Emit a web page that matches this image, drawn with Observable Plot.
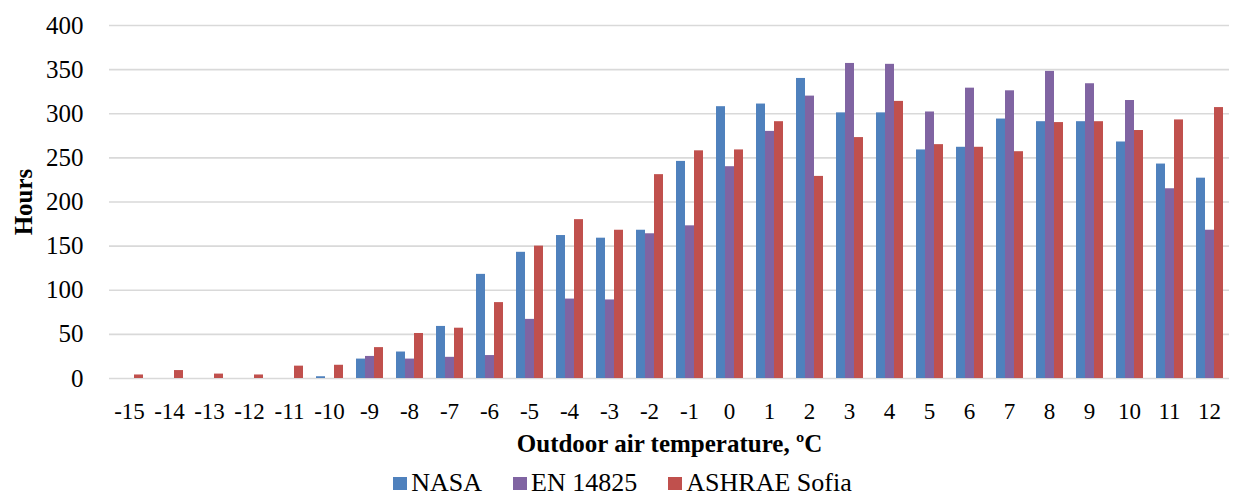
<!DOCTYPE html>
<html>
<head>
<meta charset="utf-8">
<script src="https://cdn.jsdelivr.net/npm/d3@7"></script>
<script src="https://cdn.jsdelivr.net/npm/@observablehq/plot@0.6"></script>
<style>
  html, body { margin: 0; padding: 0; background: #fff; overflow: hidden; }
  #chart { width: 1233px; height: 466px; }
  .legend { display: flex; justify-content: center; align-items: flex-start; height: 33px; width: 1233px;
    font-size: 26px; line-height: 26px; color: #000;
    padding-top: 4px; padding-left: 12px; box-sizing: border-box; }
  .legend .item { display: flex; align-items: flex-start; margin-right: 31px; }
  .legend .item:last-child { margin-right: 0; }
  .legend .sw { width: 14px; height: 13px; margin-right: 4px; display: inline-block; margin-top: 7px; }
</style>
</head>
<body>
<div id="chart"></div>
<script>
const temps = [-15, -14, -13, -12, -11, -10, -9, -8, -7, -6, -5, -4, -3, -2, -1, 0, 1, 2, 3, 4, 5, 6, 7, 8, 9, 10, 11, 12];
const seriesNames = ["NASA", "EN 14825", "ASHRAE Sofia"];
const seriesColors = ["#4f81bd", "#8064a2", "#c0504d"];
const nasa   = [0, 0, 0, 0, 0, 2, 22, 30, 59, 118, 143, 162, 159, 168, 246, 308, 311, 340, 301, 301, 259, 262, 294, 291, 291, 268, 243, 227];
const en14825 = [0, 0, 0, 0, 0, 0, 25, 22, 24, 26, 67, 90, 89, 164, 173, 240, 280, 320, 357, 356, 302, 329, 326, 348, 334, 315, 215, 168];
const ashrae = [4, 9, 5, 4, 14, 15, 35, 51, 57, 86, 150, 180, 168, 231, 258, 259, 291, 229, 273, 314, 265, 262, 257, 290, 291, 281, 293, 307];
const yTicks = [0, 50, 100, 150, 200, 250, 300, 350, 400];

const fontStack = "'Liberation Serif', 'Times New Roman', serif";
const seriesValues = [nasa, en14825, ashrae];
const data = [];
temps.forEach((t, i) => {
  seriesNames.forEach((s, j) => data.push({temp: t, series: s, value: seriesValues[j][i]}));
});

const chart = Plot.plot({
  width: 1233,
  height: 466,
  marginLeft: 108,
  marginRight: 3,
  marginTop: 25,
  marginBottom: 88,
  style: {fontFamily: fontStack, fontSize: "23px", color: "#000", background: "#fff"},
  fx: {domain: temps, padding: 0, tickSize: 0, tickPadding: 24, tickFormat: d => `${d}`,
       label: "Outdoor air temperature, ºC", labelAnchor: "center", labelOffset: 73},
  x: {domain: seriesNames, axis: null, paddingInner: 0, paddingOuter: 0.72},
  y: {domain: [0, 400], ticks: yTicks, tickSize: 0, tickPadding: 26, tickFormat: d => `${d}`,
      label: "Hours", labelAnchor: "center", labelOffset: 95},
  color: {domain: seriesNames, range: seriesColors},
  marks: [
    Plot.ruleY(yTicks, {stroke: "#d9d9d9", strokeWidth: 1.6}),
    Plot.barY(data, {fx: "temp", x: "series", y: "value", fill: "series"})
  ]
});

const svg = d3.select(chart);
svg.selectAll("text").each(function() {
  const el = d3.select(this);
  const t = this.textContent;
  if (t.includes("Hours")) {
    el.text("Hours").attr("font-weight", "bold").style("font-weight", "bold").style("font-size", "25px");
  } else if (t.includes("Outdoor")) {
    el.attr("font-weight", "bold").style("font-weight", "bold").style("font-size", "25px");
  }
});
// enlarge y-axis tick labels
svg.selectAll("g").each(function() {
  const ta = this.getAttribute("text-anchor");
  if (ta === "end") d3.select(this).selectAll("text").style("font-size", "25px");
});
document.getElementById("chart").appendChild(chart);

const legend = d3.select("body").append("div").attr("class", "legend").style("font-family", fontStack);
seriesNames.forEach((s, i) => {
  const item = legend.append("div").attr("class", "item");
  item.append("span").attr("class", "sw").style("background", seriesColors[i]);
  item.append("span").text(s);
});
</script>
</body>
</html>
